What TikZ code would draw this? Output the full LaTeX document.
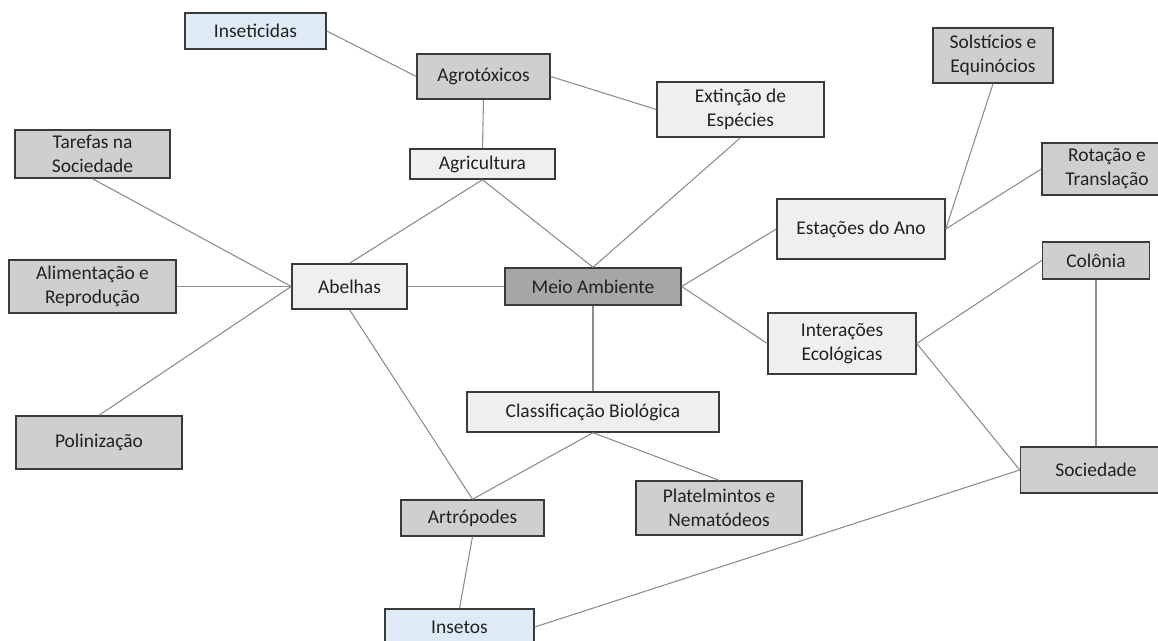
\documentclass[tikz,border=0pt]{standalone}
\usepackage{fontspec}
\setmainfont{Carlito}
\definecolor{cLight}{HTML}{EFEFEF}
\definecolor{cMid}{HTML}{D0CECE}
\definecolor{cDark}{HTML}{A6A6A6}
\definecolor{cBlue}{HTML}{DEEBF7}
\definecolor{cBorder}{HTML}{3A3A3A}
\definecolor{cLine}{HTML}{8C8C8C}
\definecolor{cText}{HTML}{222222}
\tikzset{
  base/.style={draw=cBorder,line width=1.1pt,inner sep=0pt,align=center,
    text=cText,font=\fontsize{14.6}{17.8}\selectfont},
  light/.style={base,fill=cLight},
  mid/.style={base,fill=cMid},
  dark/.style={base,fill=cDark},
  blue/.style={base,fill=cBlue},
  conn/.style={draw=cLine,line width=0.8pt}}
\begin{document}
\begin{tikzpicture}[x=0.75pt,y=-0.75pt]
\useasboundingbox[fill=white] (0,0) rectangle (1158,641);
% nodes (sizes in px * 0.75pt)
\node[blue,minimum width=105.75pt,minimum height=27pt] (inset) at (255.5,31) {Inseticidas};
\node[mid,minimum width=99.75pt,minimum height=33.75pt] (agro) at (483.5,76.5) {Agrotóxicos};
\node[light,minimum width=108.75pt,minimum height=22.5pt] (agri) at (482.5,164) {Agricultura};
\node[light,minimum width=125.25pt,minimum height=41.25pt] (ext) at (740.5,109.5) {Extinção de\\Espécies};
\node[light,minimum width=126pt,minimum height=45pt] (est) at (861,229) {Estações do Ano};
\node[mid,minimum width=90pt,minimum height=41.25pt] (sol) at (993,55.5) {Solstícios e\\Equinócios};
\node[mid,minimum width=97.5pt,minimum height=39pt] (rot) at (1107,169) {Rotação e\\Translação};
\node[mid,minimum width=80.25pt,minimum height=27.75pt] (col) at (1096,260.5) {Colônia};
\node[light,minimum width=111pt,minimum height=45.75pt] (inter) at (842,343.5) {Interações\\Ecológicas};
\node[mid,minimum width=116.25pt,minimum height=36pt] (taref) at (92.5,154) {Tarefas na\\Sociedade};
\node[mid,minimum width=125.25pt,minimum height=39.75pt] (alim) at (92.5,286.5) {Alimentação e\\Reprodução};
\node[mid,minimum width=124.5pt,minimum height=39.75pt] (polin) at (99,442.5) {Polinização};
\node[light,minimum width=86.25pt,minimum height=33.75pt] (abel) at (349.5,286.5) {Abelhas};
\node[dark,minimum width=132pt,minimum height=27.75pt] (meio) at (593,286.5) {Meio Ambiente};
\node[light,minimum width=189pt,minimum height=30pt] (class) at (593,412) {Classificação Biológica};
\node[mid,minimum width=107.25pt,minimum height=27pt] (artr) at (472.5,518) {Artrópodes};
\node[mid,minimum width=124.5pt,minimum height=40.5pt] (plat) at (719,508) {Platelmintos e\\Nematódeos};
\node[blue,minimum width=111.75pt,minimum height=27pt] (insetos) at (459.5,627) {Insetos};
\node[mid,minimum width=113.25pt,minimum height=34.5pt] (soc) at (1096,470) {Sociedade};
% connectors
\draw[conn] (inset.east) -- (agro.west);
\draw[conn] (agro.east) -- (ext.west);
\draw[conn] (agro.south) -- (agri.north);
\draw[conn] (agri.south) -- (abel.north);
\draw[conn] (agri.south) -- (meio.north);
\draw[conn] (ext.south) -- (meio.north);
\draw[conn] (meio.east) -- (est.west);
\draw[conn] (meio.east) -- (inter.west);
\draw[conn] (est.east) -- (sol.south);
\draw[conn] (est.east) -- (rot.west);
\draw[conn] (inter.east) -- (col.west);
\draw[conn] (inter.east) -- (soc.west);
\draw[conn] (col.south) -- (soc.north);
\draw[conn] (taref.south) -- (abel.west);
\draw[conn] (alim.east) -- (abel.west);
\draw[conn] (polin.north) -- (abel.west);
\draw[conn] (abel.east) -- (meio.west);
\draw[conn] (abel.south) -- (artr.north);
\draw[conn] (meio.south) -- (class.north);
\draw[conn] (class.south) -- (artr.north);
\draw[conn] (class.south) -- (plat.north);
\draw[conn] (artr.south) -- (insetos.north);
\draw[conn] (insetos.east) -- (soc.west);
\end{tikzpicture}
\end{document}
